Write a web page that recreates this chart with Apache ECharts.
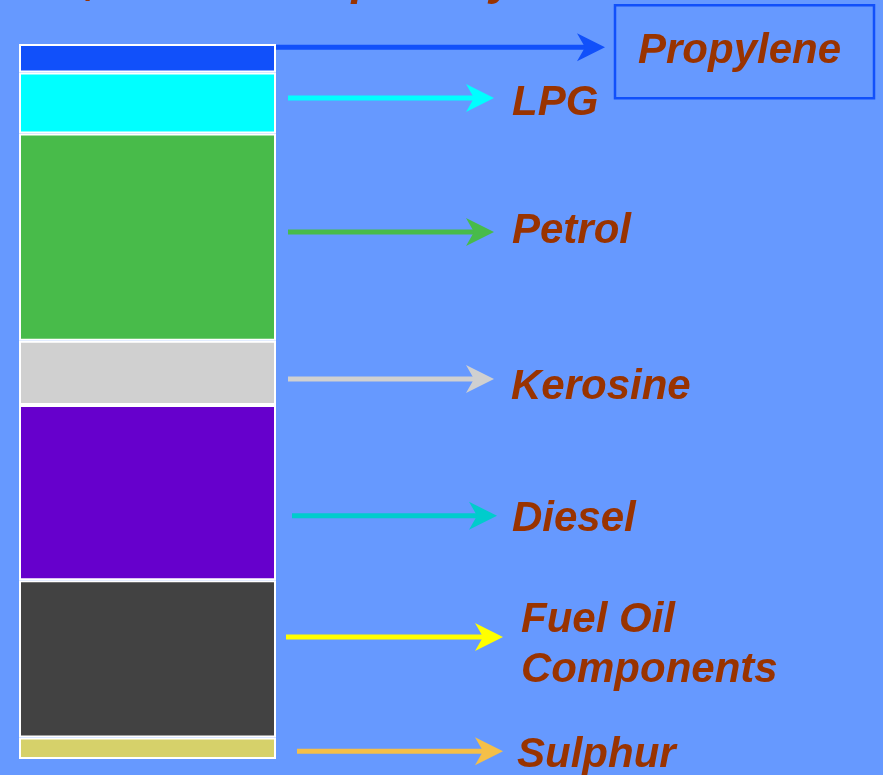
<!DOCTYPE html>
<html>
<head>
<meta charset="utf-8">
<script src="https://cdn.jsdelivr.net/npm/echarts@6/dist/echarts.min.js"></script>
<style>
  html, body { margin: 0; padding: 0; background: #6699ff; }
  #main { width: 883px; height: 775px; }
</style>
</head>
<body>
<div id="main"></div>
<script>
// product split of the refinery output (share of the column, %)
var products = ['Propylene', 'LPG', 'Petrol', 'Kerosine', 'Diesel', 'Fuel Oil\nComponents', 'Sulphur'];
var shares = [4, 8.5, 29, 9, 24.5, 22, 3];
var barColors = ['#1150fa', '#00ffff', '#48bb4a', '#d0d0d0', '#6600cc', '#424242', '#d6d16a'];
var arrowColors = ['#1150fa', '#00ffff', '#48bb4a', '#d0d0d0', '#00cccc', '#ffff00', '#f5bf48'];
var titleText = '5,000 tonnes per day';

// callout layout (pixels, relative to the right edge of the column)
var arrowDy = [-11, -5, -5, 6, 23, -22, 3];
var arrowFrom = [0, 12, 12, 12, 16, 10, 21];
var arrowTo = [329, 218, 218, 218, 221, 227, 227];
var textX = [362, 236, 236, 235, 236, 245, 241];
var textDy = [4, 5, -1, 9, 4, 9, 4];

var TEXT_COLOR = '#993300';
var FONT = '"Liberation Sans", Arial, sans-serif';

var chart = echarts.init(document.getElementById('main'));

var mids = [];
var acc = 0;
for (var i = 0; i < shares.length; i++) {
    mids.push([0, acc + shares[i] / 2, i]);
    acc += shares[i];
}

var barSeries = products.map(function (name, i) {
    return {
        type: 'bar',
        name: name,
        stack: 'total',
        barWidth: '100%',
        data: [shares[i]],
        itemStyle: {
            color: barColors[i],
            borderColor: '#ffffff',
            borderWidth: 2
        },
        silent: true
    };
});

function renderCallout(params, api) {
    var i = api.value(2);
    var pt = api.coord([api.value(0), api.value(1)]);
    var band = api.size([1, 0])[0];
    var right = pt[0] + band / 2;
    var y = pt[1] + arrowDy[i];
    var x0 = right + arrowFrom[i];
    var x1 = right + arrowTo[i];
    var children = [
        {
            type: 'line',
            shape: { x1: x0, y1: y, x2: x1 - 18, y2: y },
            style: { stroke: arrowColors[i], lineWidth: 5 }
        },
        {
            type: 'polygon',
            shape: { points: [[x1, y], [x1 - 28, y - 14], [x1 - 20, y], [x1 - 28, y + 14]] },
            style: { fill: arrowColors[i] }
        },
        {
            type: 'text',
            style: {
                text: products[i],
                x: right + textX[i],
                y: y + textDy[i],
                fill: TEXT_COLOR,
                fontSize: 42,
                fontStyle: 'italic',
                fontWeight: 'bold',
                fontFamily: FONT,
                lineHeight: 50,
                align: 'left',
                verticalAlign: 'middle'
            }
        }
    ];
    if (i === 0) {
        children.push({
            type: 'rect',
            shape: { x: right + 339, y: y - 42, width: 259, height: 93 },
            style: { fill: 'none', stroke: '#1150fa', lineWidth: 2.5 }
        });
    }
    return { type: 'group', children: children };
}

var option = {
    backgroundColor: '#6699ff',
    animation: false,
    grid: { left: 19, top: 44, width: 257, height: 715 },
    xAxis: {
        type: 'category',
        data: ['output'],
        show: false
    },
    yAxis: {
        type: 'value',
        min: 0,
        max: 100,
        inverse: true,
        show: false
    },
    graphic: [
        {
            type: 'text',
            left: 60,
            top: -42,
            style: {
                text: titleText,
                fill: TEXT_COLOR,
                fontSize: 46,
                fontStyle: 'italic',
                fontWeight: 'bold',
                fontFamily: FONT
            }
        }
    ],
    series: barSeries.concat([
        {
            type: 'custom',
            clip: false,
            silent: true,
            z: 5,
            data: mids,
            renderItem: renderCallout
        }
    ])
};

chart.setOption(option);
</script>
</body>
</html>
